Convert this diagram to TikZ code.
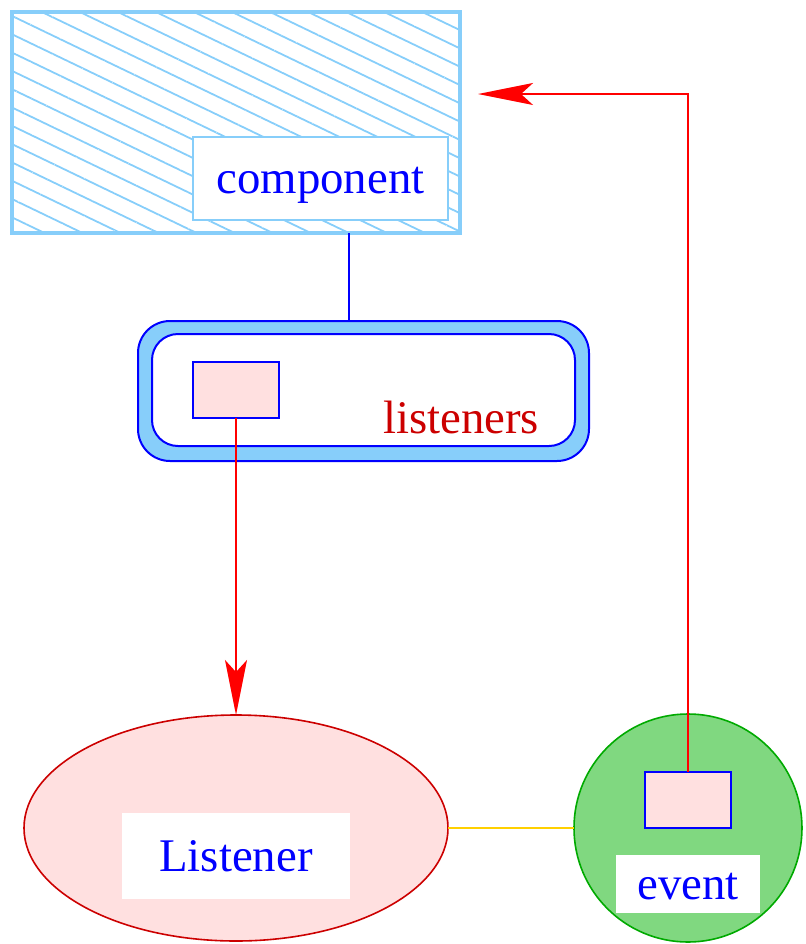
\documentclass[tikz,border=0pt]{standalone}
\usepackage{fontspec}
\setmainfont{Liberation Serif}
\usetikzlibrary{shapes.geometric,patterns.meta,arrows.meta,calc}
\definecolor{skyb}{HTML}{87CEFA}
\definecolor{pinkf}{HTML}{FFE0E0}
\definecolor{darkr}{HTML}{CC0000}
\definecolor{greenf}{HTML}{80D880}
\definecolor{greend}{HTML}{00AA00}
\definecolor{goldl}{HTML}{FFD000}
\begin{document}
\begin{tikzpicture}[x=0.5pt,y=-0.5pt,
  every node/.style={font=\fontsize{23.4}{28}\selectfont, inner sep=0pt, outer sep=0pt},
  slot/.style={rectangle, fill=pinkf, draw=blue, line width=1pt, minimum width=43pt, minimum height=28pt},
  wlabel/.style={rectangle, fill=white, text=blue, text height=16pt, text depth=1pt},
  redarrow/.style={draw=red, line width=1pt, -{Stealth[length=27.5pt, width=11pt, inset=6pt]}}
]
\useasboundingbox (0,0) rectangle (806,944);

% component
\node[rectangle, draw=skyb, line width=2pt, minimum width=224pt, minimum height=110.5pt,
  pattern={Lines[angle=-25.7, distance=8.25pt, line width=0.9pt]}, pattern color=skyb] (comp) at (236,122.5) {};
\node[wlabel, draw=skyb, line width=0.75pt, minimum width=127.5pt, minimum height=41.5pt] (complabel) at (320.5,178.5) {component};

% listeners
\node[rectangle, rounded corners=16pt, fill=skyb, draw=blue, line width=1pt, minimum width=225.5pt, minimum height=70pt] (lst) at (363.5,391) {};
\node[rectangle, rounded corners=13pt, fill=white, draw=blue, line width=1pt, minimum width=211.5pt, minimum height=56pt] (lstin) at (363.5,390) {};
\node[slot] (lrect) at (236,390) {};
\node[anchor=base east, text=darkr] (lstlabel) at (539,433) {listeners};

\draw[blue, line width=1pt] (comp.south -| 349,0) -- (lst.north -| 349,0);

% Listener
\node[ellipse, fill=pinkf, draw=darkr, line width=0.8pt, minimum width=212pt, minimum height=113pt] (lis) at (236,828) {};
\node[wlabel, minimum width=114pt, minimum height=43pt] (lislabel) at (236,856) {Listener};

% event
\node[circle, fill=greenf, draw=greend, line width=0.8pt, minimum size=114pt] (ev) at (688,828) {};
\node[slot] (erect) at (688,799.5) {};
\node[wlabel, minimum width=72pt, minimum height=29pt] (evlabel) at (688,884) {event};

% connectors
\draw[goldl, line width=0.75pt] (lis.east) -- (ev.west);
\draw[redarrow] (lrect.south) -- (lis.north);
\coordinate (tgt) at (478,94);
\draw[redarrow] (erect.north) |- (tgt);
\end{tikzpicture}
\end{document}
